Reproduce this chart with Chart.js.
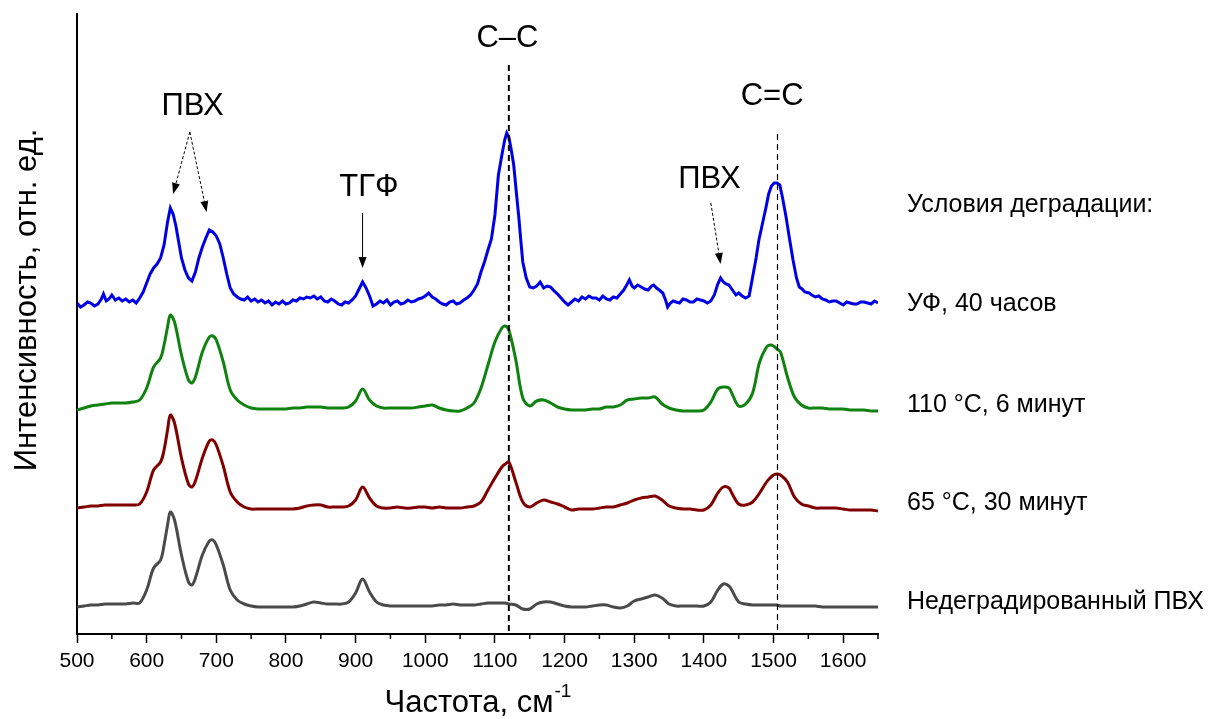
<!DOCTYPE html>
<html>
<head>
<meta charset="utf-8">
<script src="https://cdn.jsdelivr.net/npm/chart.js@4.4.0/dist/chart.umd.min.js"></script>
<style>
  body { margin: 0; background: #fff; }
  #wrap { width: 1216px; height: 719px; }
</style>
</head>
<body>
<div id="wrap"><canvas id="myChart"></canvas></div>
<script>
// wavenumbers shared by the three smooth spectra
var waveBase = [500,510,520,530,540,550,560,570,580,590,600,610,620,625,630,634,640,650,660,665,670,680,690,695,700,
  710,720,730,740,750,760,770,780,790,800,810,820,830,840,850,860,870,880,890,900,910,920,930,940,950,960,970,980,990,
  1000,1010,1020,1030,1040,1050,1060,1070,1080,1090,1100,1110,1115,1120,1130,1140,1150,1160,1170,1180,1190,1200,1210,
  1220,1230,1240,1250,1260,1270,1280,1290,1300,1310,1320,1330,1340,1350,1360,1370,1380,1390,1400,1410,1420,1428,1436,
  1440,1450,1460,1470,1480,1490,1495,1500,1505,1510,1520,1530,1540,1550,1560,1570,1580,1590,1600,1610,1620,1630,1640,1650];

// Недеградированный ПВХ (offset spectrum, arb. units)
var pvcRaw = [27,28,29,29,30,30,30,30,31,31,44,66,74,89,109,122,114,79,52,49,56,79,93,94,89,
  69,44,34,30,28,27,27,27,27,27,27,28,30,32,31,30,30,30,32,41,55,42,32,29,28,28,28,28,28,
  28,28,29,29,30,29,29,29,30,31,31,31,31,30,29,25,25,30,32,32,30,28,27,
  27,27,28,29,29,27,26,28,33,35,37,39,36,30,28,28,28,28,28,32,44,50,48,
  44,32,30,29,29,29,29,29,29,28,28,28,28,28,28,27,27,27,27,27,27,27,27,27];

// 65 °C, 30 минут
var heat65 = [126,127,128,128,129,129,129,129,129,130,142,164,172,184,204,219,211,176,150,147,153,176,193,194,189,
  168,142,132,127,125,125,125,125,125,125,125,126,128,129,129,127,127,127,128,134,147,136,128,126,126,127,126,126,127,
  127,126,127,126,126,126,127,128,132,144,156,167,170,172,152,132,127,131,134,132,130,127,124,
  125,125,125,126,127,127,129,131,134,136,137,138,134,128,126,125,125,124,124,129,141,147,146,
  141,130,129,132,141,152,156,159,160,159,152,137,130,128,126,126,126,126,125,124,124,124,124,123];

// 110 °C, 6 минут
var heat110 = [224,226,228,229,230,231,231,231,232,234,246,267,276,289,307,319,312,279,254,251,257,282,297,298,294,
  272,244,234,229,226,225,225,225,225,225,226,226,227,227,227,226,226,226,227,233,245,234,228,226,226,226,226,226,227,
  228,229,226,224,223,223,226,231,246,269,292,306,308,304,274,236,228,233,234,231,227,225,224,
  224,224,225,225,227,227,229,234,235,236,236,237,230,226,224,223,223,223,224,232,245,247,246,
  241,228,230,241,272,287,289,288,285,282,257,237,229,226,226,226,225,225,225,224,224,224,223,223];

// УФ, 40 часов (noisy)
var waveUV = [500,505,510,515,520,525,530,535,538,542,546,550,555,560,565,570,575,580,585,590,595,600,605,610,615,620,
  625,630,634,638,642,646,650,655,660,665,670,675,680,685,690,695,700,705,710,715,720,725,730,735,740,745,750,755,760,
  765,770,775,780,785,790,795,800,805,810,815,820,825,830,835,840,845,850,855,860,865,870,875,880,885,890,895,900,905,
  910,915,920,925,930,935,940,945,950,955,960,965,970,975,980,985,990,995,1000,1005,1010,1015,1020,1025,1030,1035,1040,
  1045,1050,1055,1060,1065,1070,1075,1080,1085,1090,1095,1100,1105,1110,1114,1117,1120,1123,1127,1131,1134,1137,1140,
  1145,1150,1155,1160,1165,1170,1175,1180,1185,1190,1195,1200,1205,1210,1215,1220,1225,1230,1235,1240,1245,1250,1255,
  1260,1265,1270,1275,1280,1285,1290,1293,1297,1300,1305,1310,1315,1320,1325,1328,1332,1336,1341,1345,1348,1352,1356,
  1360,1365,1370,1375,1380,1385,1390,1395,1400,1405,1410,1415,1420,1424,1428,1432,1436,1441,1446,1450,1455,1460,1465,
  1470,1475,1479,1484,1489,1493,1497,1501,1505,1509,1513,1518,1523,1528,1533,1537,1541,1545,1551,1555,1560,1565,1570,
  1575,1580,1585,1590,1595,1600,1605,1610,1615,1620,1625,1630,1635,1640,1645,1650];
var uv40 = [331,327,329,332,331,328,330,335,340,333,335,339,334,336,333,335,332,334,331,336,342,351,360,366,370,376,
  389,412,426,420,408,392,376,364,356,353,362,376,387,396,404,402,398,390,376,360,346,340,337,335,334,337,333,335,332,
  334,331,333,329,332,330,333,330,331,334,333,336,335,337,336,338,335,337,333,332,335,333,330,329,332,331,334,338,345,
  352,346,338,328,330,333,331,334,329,332,333,330,331,334,332,333,335,336,338,341,337,335,332,330,329,332,333,
  330,331,334,336,339,344,350,362,372,384,395,419,459,479,494,501,497,486,469,440,419,395,372,
  356,347,346,348,352,346,348,347,343,340,336,332,329,332,335,333,337,335,338,336,336,334,338,
  335,334,337,336,340,344,350,354,348,346,349,347,345,344,348,349,346,344,341,334,327,331,333,
  332,331,335,334,332,332,335,334,333,331,333,339,350,356,352,350,349,344,339,341,338,336,338,
  357,376,394,410,426,440,448,451,451,449,436,417,395,374,356,347,345,342,341,339,337,338,335,
  334,332,333,333,331,329,332,331,330,330,332,332,331,330,333,331];

var xTicksMajor = [500,600,700,800,900,1000,1100,1200,1300,1400,1500,1600];
var conditionLabels = ['Условия деградации:', 'УФ, 40 часов', '110 °C, 6 минут', '65 °C, 30 минут', 'Недеградированный ПВХ'];
var conditionLevels = [429, 330, 229, 131, 32];
var bandLines = [1120, 1505];

function pairs(xs, ys) {
  return xs.map(function (x, i) { return { x: x, y: ys[i] }; });
}

var FONT = '"Liberation Sans", Arial, sans-serif';

function arrow(c, x1, y1, x2, y2, dashed) {
  var ang = Math.atan2(y2 - y1, x2 - x1);
  var len = 11, half = 4;
  var bx = x2 - len * Math.cos(ang), by = y2 - len * Math.sin(ang);
  c.save();
  c.strokeStyle = '#000';
  c.fillStyle = '#000';
  c.lineWidth = 1;
  c.setLineDash(dashed ? [3, 2] : []);
  c.beginPath();
  c.moveTo(x1, y1);
  c.lineTo(bx, by);
  c.stroke();
  c.setLineDash([]);
  c.beginPath();
  c.moveTo(x2, y2);
  c.lineTo(bx + half * Math.sin(ang), by - half * Math.cos(ang));
  c.lineTo(bx - half * Math.sin(ang), by + half * Math.cos(ang));
  c.closePath();
  c.fill();
  c.restore();
}

var decorations = {
  id: 'decorations',
  afterDatasetsDraw: function (chart) {
    var c = chart.ctx;
    var xs = chart.scales.x, ys = chart.scales.y;
    var area = chart.chartArea;
    function X(v) { return xs.getPixelForValue(v); }
    function Y(v) { return ys.getPixelForValue(v); }

    // band position lines
    c.save();
    c.strokeStyle = '#000';
    c.lineWidth = 2;
    c.setLineDash([6, 4]);
    c.beginPath();
    c.moveTo(X(bandLines[0]), Y(569));
    c.lineTo(X(bandLines[0]), area.bottom);
    c.stroke();
    c.lineWidth = 1.2;
    c.setLineDash([6, 4]);
    c.beginPath();
    c.moveTo(Math.round(X(bandLines[1])) + 0.5, Y(500));
    c.lineTo(Math.round(X(bandLines[1])) + 0.5, area.bottom);
    c.stroke();
    c.restore();

    // peak labels
    c.save();
    c.fillStyle = '#000';
    c.font = '31px ' + FONT;
    c.textAlign = 'center';
    c.textBaseline = 'middle';
    c.fillText('ПВХ', X(666), Y(528));
    c.fillText('ТГФ', X(919), Y(447));
    c.fillText('C–C', X(1118), Y(596));
    c.fillText('C=C', X(1498), Y(538));
    c.fillText('ПВХ', X(1408), Y(455));
    c.restore();

    arrow(c, X(662), Y(502), X(638), Y(440), true);
    arrow(c, X(662), Y(502), X(686), Y(422), true);
    arrow(c, X(910), Y(421), X(910), Y(366), false);
    arrow(c, X(1410), Y(431), X(1424), Y(370), true);

    // minor ticks
    c.save();
    c.strokeStyle = '#000';
    c.lineWidth = 1.5;
    xTicksMajor.forEach(function (t) {
      var px = X(t + 50);
      if (t + 50 > xs.max) return;
      c.beginPath();
      c.moveTo(px, area.bottom);
      c.lineTo(px, area.bottom + 5);
      c.stroke();
    });
    c.restore();

    // condition labels on the right
    c.save();
    c.fillStyle = '#000';
    c.font = '25px ' + FONT;
    c.textAlign = 'left';
    c.textBaseline = 'middle';
    conditionLabels.forEach(function (t, i) {
      c.fillText(t, area.right + 29, Y(conditionLevels[i]));
    });
    c.restore();

    // axis titles
    c.save();
    c.fillStyle = '#000';
    c.textBaseline = 'alphabetic';
    var main = 'Частота, см';
    c.font = '31px ' + FONT;
    var wMain = c.measureText(main).width;
    c.font = '19px ' + FONT;
    var wSup = c.measureText('-1').width;
    var x0 = (area.left + area.right) / 2 - (wMain + wSup) / 2;
    c.font = '31px ' + FONT;
    c.textAlign = 'left';
    c.fillText(main, x0, 712);
    c.font = '19px ' + FONT;
    c.fillText('-1', x0 + wMain + 1, 697);
    c.translate(27, 300);
    c.rotate(-Math.PI / 2);
    c.font = '31px ' + FONT;
    c.textAlign = 'center';
    c.textBaseline = 'middle';
    c.fillText('Интенсивность, отн. ед.', 0, 0);
    c.restore();
  }
};

var ctx = document.getElementById('myChart').getContext('2d');

var myChart = new Chart(ctx, {
  type: 'line',
  data: {
    datasets: [
      { label: 'Недеградированный ПВХ', data: pairs(waveBase, pvcRaw), borderColor: '#4a4a4a', tension: 0.35 },
      { label: '65 °C, 30 минут', data: pairs(waveBase, heat65), borderColor: '#800000', tension: 0.35 },
      { label: '110 °C, 6 минут', data: pairs(waveBase, heat110), borderColor: '#0f820f', tension: 0.35 },
      { label: 'УФ, 40 часов', data: pairs(waveUV, uv40), borderColor: '#0000e6', tension: 0 }
    ]
  },
  options: {
    responsive: true,
    maintainAspectRatio: false,
    animation: false,
    datasets: {
      line: { borderWidth: 3, pointRadius: 0, fill: false }
    },
    layout: { padding: { top: 14, right: 338, left: 0, bottom: 0 } },
    plugins: {
      legend: { display: false },
      tooltip: { enabled: false }
    },
    scales: {
      x: {
        type: 'linear',
        min: 500,
        max: 1650,
        afterFit: function (s) { s.height = 85; },
        ticks: {
          stepSize: 50,
          autoSkip: false,
          maxRotation: 0,
          padding: 6,
          color: '#000',
          font: { size: 21, family: FONT },
          callback: function (v) { return v % 100 === 0 ? String(v) : ''; }
        },
        grid: {
          drawOnChartArea: false,
          tickLength: 9,
          tickWidth: 1.5,
          tickColor: function (c) { return c.tick && c.tick.value % 100 === 0 ? '#000' : 'rgba(0,0,0,0)'; }
        },
        border: { color: '#000', width: 2 }
      },
      y: {
        min: 0,
        max: 620,
        afterFit: function (s) { s.width = 77; },
        ticks: { display: false },
        grid: { display: false },
        border: { color: '#000', width: 2 }
      }
    }
  },
  plugins: [decorations]
});
</script>
</body>
</html>
